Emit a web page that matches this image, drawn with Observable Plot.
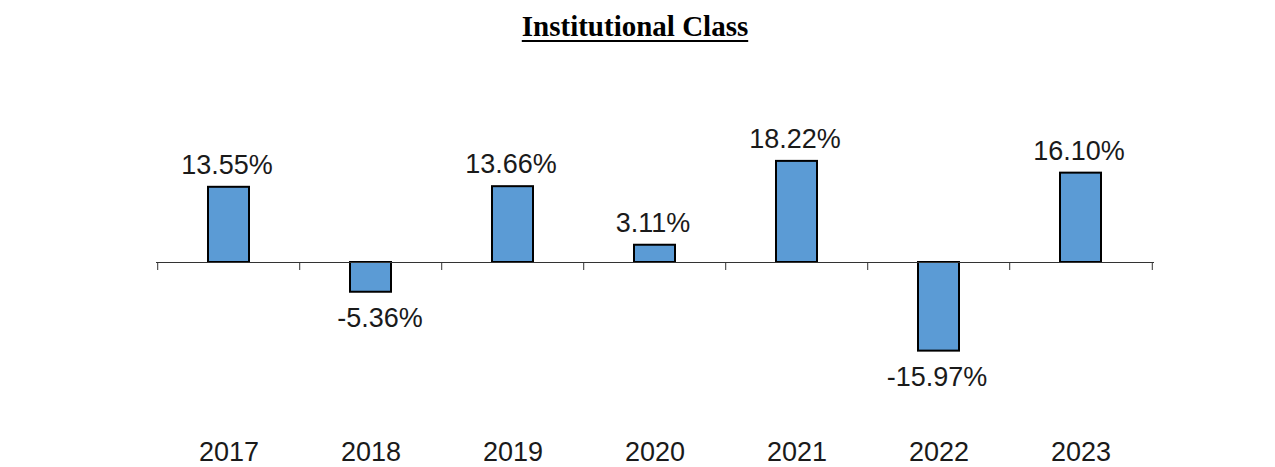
<!DOCTYPE html>
<html>
<head>
<meta charset="utf-8">
<script src="https://cdn.jsdelivr.net/npm/d3@7"></script>
<script src="https://cdn.jsdelivr.net/npm/@observablehq/plot@0.6"></script>
<style>
  html, body { margin: 0; padding: 0; background: #fff; }
  #title {
    height: 50px; box-sizing: border-box; padding-top: 12px;
    width: 1270px; text-align: center;
    font-family: "Liberation Serif", "Times New Roman", serif;
    font-weight: bold; font-size: 29px; line-height: 29px;
    text-decoration: underline; text-decoration-thickness: 2px; text-underline-offset: 4px;
    color: #000;
  }
  #chart svg { display: block; }
  #chart svg text { font-family: "Liberation Sans", Arial, sans-serif; }
</style>
</head>
<body>
<div id="title">Institutional Class</div>
<div id="chart"></div>
<script>
const years = ["2017", "2018", "2019", "2020", "2021", "2022", "2023"];
const returns = [13.55, -5.36, 13.66, 3.11, 18.22, -15.97, 16.10];
const labels = ["13.55%", "-5.36%", "13.66%", "3.11%", "18.22%", "-15.97%", "16.10%"];

const data = years.map((y, i) => ({year: y, value: returns[i], label: labels[i]}));

const W = 1275, H = 417;
const mL = 156, mR = 121, mT = 101, mB = 94;
const step = (W - mL - mR) / years.length;

const chart = Plot.plot({
  width: W,
  height: H,
  marginLeft: mL,
  marginRight: mR,
  marginTop: mT,
  marginBottom: mB,
  x: {type: "band", domain: years, paddingInner: 0.71, paddingOuter: 0.355, axis: null},
  y: {domain: [-20, 20], axis: null},
  style: {fontFamily: "Liberation Sans, Arial, sans-serif", background: "#fff"},
  marks: [
    Plot.barY(data, {x: "year", y1: 0, y2: "value", fill: "#5B9BD5", stroke: "#000", strokeWidth: 2}),
    Plot.ruleY([0], {stroke: "#333", strokeWidth: 1}),
    Plot.ruleX(years, {x: d => d, y1: () => 0, y2: () => 0, insetBottom: -8, dx: -step / 2, stroke: "#333", strokeWidth: 1}),
    Plot.ruleX([years[years.length - 1]], {x: d => d, y1: () => 0, y2: () => 0, insetBottom: -8, dx: step / 2, stroke: "#333", strokeWidth: 1}),
    Plot.text(data.filter(d => d.value >= 0), {x: "year", y: "value", text: "label", lineAnchor: "middle", dy: -22, dx: -2, fontSize: 27, fill: "#1a1a1a"}),
    Plot.text(data.filter(d => d.value < 0 && d.value > -10), {x: "year", y: "value", text: "label", lineAnchor: "middle", dy: 26, dx: 9, fontSize: 27, fill: "#1a1a1a"}),
    Plot.text(data.filter(d => d.value <= -10), {x: "year", y: "value", text: "label", lineAnchor: "middle", dy: 26, dx: -2, fontSize: 27, fill: "#1a1a1a"}),
    Plot.text(years, {x: d => d, frameAnchor: "bottom", lineAnchor: "middle", dy: 79, fontSize: 27, fill: "#1a1a1a"})
  ]
});
document.getElementById("chart").appendChild(chart);
</script>
</body>
</html>
